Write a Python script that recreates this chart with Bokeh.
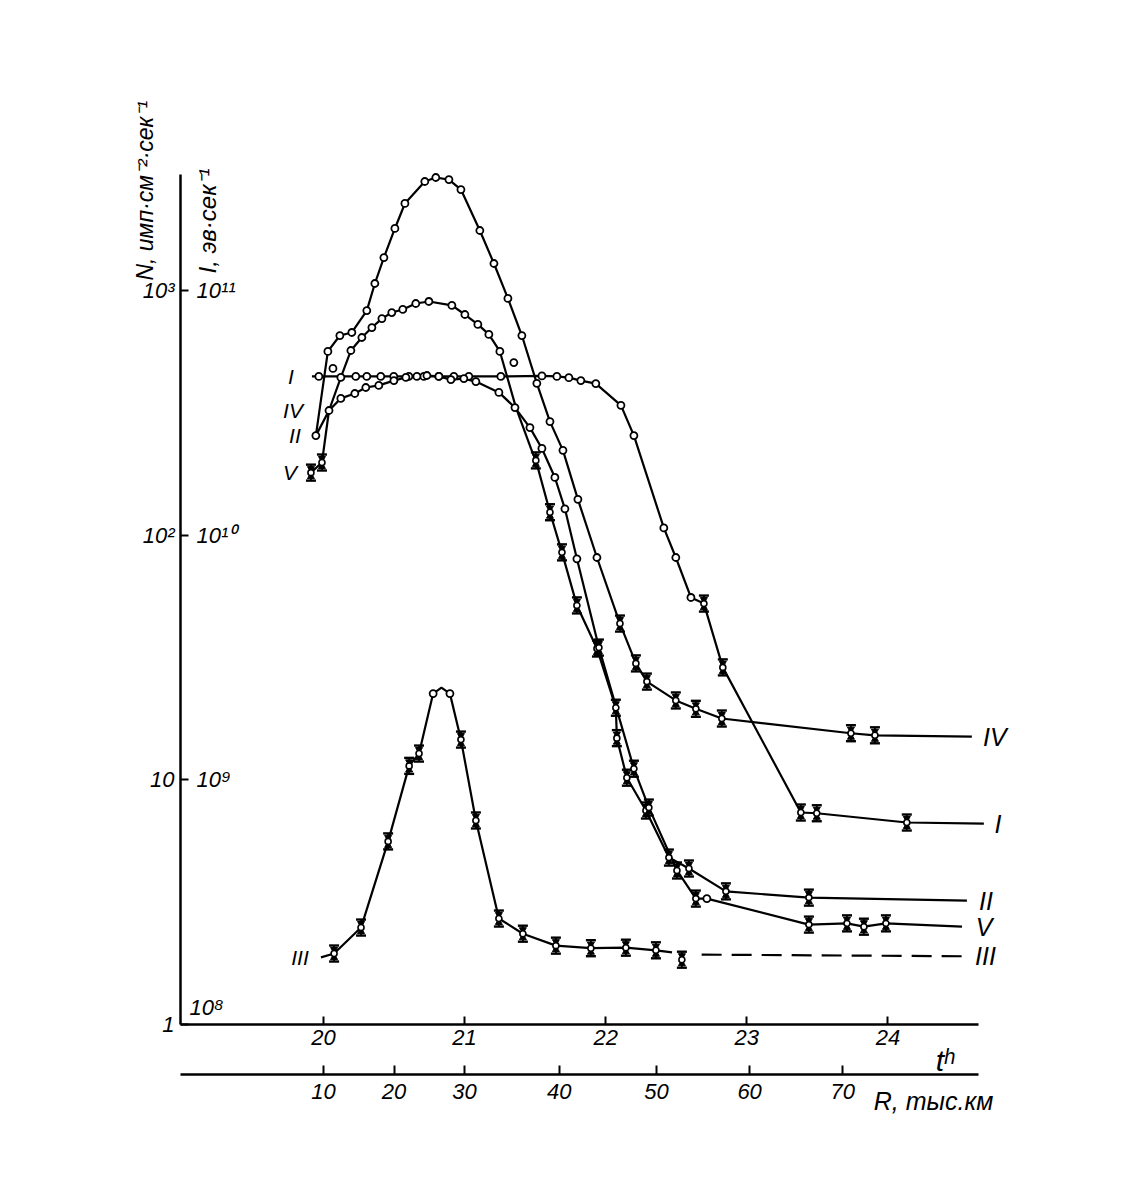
import math
from bokeh.plotting import figure
from bokeh.models import LogAxis, LinearAxis, FixedTicker, Range1d, Label
from bokeh.embed import file_html
from bokeh.resources import INLINE

# ---------------- data ----------------
N_ticks = [1, 10, 100, 1000]
N_tick_labels = ["1", "10", "10²", "10³"]
I_tick_labels = ["10⁸", "10⁹", "10¹⁰", "10¹¹"]
t_ticks = [20, 21, 22, 23, 24]
R_values = [10, 20, 30, 40, 50, 60, 70]
R_at_t = [20.0, 20.5, 21.0, 21.67, 22.36, 23.02, 23.68]

# curve ending at label I (flat plateau then drop)
t_I = [19.918, 19.967, 20.229, 20.307, 20.406, 20.498, 20.605, 20.711, 20.817, 20.924,
       21.030, 21.257, 21.548, 21.654, 21.739, 21.824, 21.930, 22.108, 22.200, 22.412,
       22.497, 22.604, 22.696, 22.830, 23.383, 23.496, 24.134, 24.680]
N_I = [445, 445, 445, 445, 445, 445, 445, 445, 445, 445,
       445, 445, 447, 445, 440, 428, 416, 339, 255, 107,
       81, 55.6, 52.5, 28.8, 7.35, 7.3, 6.69, 6.62]
m_I = "-" + "o" * 16 + "o" * 5 + "e" * 5 + "-"

# curve ending at label IV (tallest peak)
t_IV = [19.946, 20.031, 20.116, 20.201, 20.307, 20.364, 20.428, 20.506, 20.577, 20.718,
        20.796, 20.889, 20.974, 21.108, 21.208, 21.307, 21.406, 21.512, 21.605, 21.697,
        21.803, 21.938, 22.101, 22.214, 22.292, 22.497, 22.639, 22.823, 23.738, 23.908,
        24.595]
N_IV = [255, 563, 654, 673, 827, 1067, 1362, 1791, 2266, 2786,
        2893, 2836, 2583, 1757, 1288, 927, 654, 417, 291, 222,
        140, 81, 43.5, 29.9, 25.2, 21.1, 19.5, 17.8, 15.5, 15.2,
        15.0]
m_IV = "o" * 22 + "e" * 8 + "-"

# curve ending at label II (middle hump)
t_II = [19.911, 19.989, 20.039, 20.123, 20.194, 20.272, 20.343, 20.414, 20.484, 20.562,
        20.654, 20.747, 20.910, 21.002, 21.094, 21.172, 21.250, 21.364, 21.470, 21.505,
        21.605, 21.690, 21.796, 21.938, 22.072, 22.079, 22.150, 22.285, 22.448, 22.590,
        22.852, 23.440, 24.560]
N_II = [180, 198, 323, 441, 568, 642, 705, 767, 812, 836,
        884, 901, 868, 797, 726, 661, 563, 332, 226, 202,
        124, 85, 51.6, 34.4, 19.7, 14.8, 10.2, 7.49, 4.81, 4.34,
        3.50, 3.30, 3.21]
m_II = "ee" + "-" + "o" * 14 + "--" + "e" * 13 + "-"

# curve ending at label V (lower hump)
t_V = [19.946, 20.039, 20.123, 20.222, 20.300, 20.392, 20.499, 20.584, 20.662, 20.733,
       20.818, 20.903, 20.995, 21.080, 21.243, 21.357, 21.463, 21.548, 21.640, 21.711,
       21.796, 21.952, 22.200, 22.306, 22.505, 22.639, 22.717, 23.440, 23.710, 23.830,
       23.986, 24.525]
N_V = [255, 323, 362, 379, 401, 409, 428, 441, 445, 449,
       445, 432, 436, 424, 383, 332, 275, 226, 172, 128,
       80, 34.7, 11.1, 7.7, 4.26, 3.27, 3.27, 2.56, 2.59, 2.51,
       2.59, 2.51]
m_V = "-" + "o" * 20 + "e" * 5 + "o" + "e" * 4 + "-"

# curve III (narrow peak)
t_III = [19.982, 20.075, 20.266, 20.458, 20.607, 20.677, 20.777, 20.836, 20.896, 20.974,
         21.080, 21.243, 21.413, 21.647, 21.895, 22.143, 22.356, 22.470]
N_III = [1.88, 1.95, 2.49, 5.6, 11.4, 12.8, 22.5, 23.8, 22.5, 14.6,
         6.82, 2.71, 2.35, 2.10, 2.05, 2.06, 2.01, 1.97]
m_III = "-" + "eeeee" + "o" + "-" + "o" + "e" * 8 + "-"
t_III_dash = [22.68, 24.55]
N_III_dash = [1.93, 1.90]
t_III_extra = [22.540]
N_III_extra = [1.84]

# isolated circles
t_stray = [20.067, 21.349]
N_stray = [480, 507]

# ---------------- geometry ----------------
W, H = 1100, 1160
PX_H = 141.1      # pixels per hour
PX_DEC = 244.7    # pixels per decade
X_T20 = 323       # pixel column of t = 20
Y_N1 = 1024       # pixel row of N = 1
T_LEFT = 20 - X_T20 / PX_H
LOG_TOP = Y_N1 / PX_DEC
LOG_BOTTOM = (Y_N1 - H) / PX_DEC

T_AXIS = 20 - (X_T20 - 180) / PX_H      # where the vertical axis stands
T_AXIS_END = 24.64
N_AXIS_TOP = 2980
N_R_AXIS = 10 ** (-50 / PX_DEC)          # second (distance) axis, 50 px below

FONT = "Liberation Sans"

p = figure(width=W, height=H,
           x_range=Range1d(T_LEFT, T_LEFT + W / PX_H),
           y_range=Range1d(10 ** LOG_BOTTOM, 10 ** LOG_TOP),
           y_axis_type="log", x_axis_location=None, y_axis_location=None,
           output_backend="svg", toolbar_location=None,
           min_border=0, min_border_left=0, min_border_right=0,
           min_border_top=0, min_border_bottom=0)
p.outline_line_color = None
p.grid.grid_line_color = None
p.background_fill_color = "white"
p.border_fill_color = "white"


def style_axis(ax, size="21px", standoff=6, tick_in=8):
    ax.axis_line_width = 2.5
    ax.axis_line_color = "black"
    ax.major_tick_in = tick_in
    ax.major_tick_out = 0
    ax.major_tick_line_width = 2
    ax.minor_tick_line_color = None
    ax.major_label_standoff = standoff
    ax.major_label_text_font = FONT
    ax.major_label_text_font_style = "italic"
    ax.major_label_text_font_size = size
    ax.major_label_text_color = "black"


# left N axis
yax = LogAxis(ticker=FixedTicker(ticks=N_ticks),
              major_label_overrides={k: v for k, v in zip(N_ticks, N_tick_labels)},
              bounds=(1, N_AXIS_TOP), fixed_location=T_AXIS)
style_axis(yax, size="22px", standoff=6)
p.add_layout(yax, "left")

# time axis
tax = LinearAxis(ticker=FixedTicker(ticks=t_ticks), bounds=(T_AXIS, T_AXIS_END),
                 fixed_location=1)
style_axis(tax, size="22px", standoff=5)
p.add_layout(tax, "below")

# distance axis
rax = LinearAxis(ticker=FixedTicker(ticks=R_at_t),
                 major_label_overrides={k: str(v) for k, v in zip(R_at_t, R_values)},
                 bounds=(T_AXIS, T_AXIS_END), fixed_location=N_R_AXIS)
style_axis(rax, size="22px", standoff=9, tick_in=9)
p.add_layout(rax, "below")

# ---------------- curves ----------------
F = 10 ** (8 / PX_DEC)


def draw_errors(et, en):
    p.segment(x0=et, y0=[v / F for v in en], x1=et, y1=[v * F for v in en],
              line_width=1.8, line_color="black")
    p.scatter(et, [v * F for v in en], marker="dash", size=10, line_width=2.4, line_color="black")
    p.scatter(et, [v / F for v in en], marker="dash", size=10, line_width=2.4, line_color="black")
    p.scatter(et, [v * F ** 0.5 for v in en], marker="inverted_triangle", size=7,
              fill_color="black", line_color="black")
    p.scatter(et, [v / F ** 0.5 for v in en], marker="triangle", size=7,
              fill_color="black", line_color="black")
    p.scatter(et, en, marker="circle", size=6, fill_color="white",
              line_color="black", line_width=1.6)


def draw_markers(t, n, kinds):
    ct = [a for a, k in zip(t, kinds) if k == "o"]
    cn = [b for b, k in zip(n, kinds) if k == "o"]
    et = [a for a, k in zip(t, kinds) if k == "e"]
    en = [b for b, k in zip(n, kinds) if k == "e"]
    if ct:
        p.scatter(ct, cn, marker="circle", size=7, fill_color="white",
                  line_color="black", line_width=1.8)
    if et:
        draw_errors(et, en)


curves = [(t_I, N_I, m_I), (t_IV, N_IV, m_IV), (t_II, N_II, m_II),
          (t_V, N_V, m_V), (t_III, N_III, m_III)]
for t, n, k in curves:
    p.line(t, n, line_width=2.2, line_color="black")
p.line(t_III_dash, N_III_dash, line_width=2.2, line_color="black", line_dash="20 10")
for t, n, k in curves:
    draw_markers(t, n, k)
draw_errors(t_III_extra, N_III_extra)
p.scatter(t_stray, N_stray, marker="circle", size=7, fill_color="white",
          line_color="black", line_width=1.8)


# ---------------- texts ----------------
def lab(x, y, text, size="21px", xo=0, align="center", baseline="middle", angle=0.0,
        style="italic"):
    p.add_layout(Label(x=x, y=y, text=text, x_offset=xo,
                       text_align=align, text_baseline=baseline, angle=angle,
                       text_font=FONT, text_font_style=style, text_font_size=size,
                       text_color="black"))


# I-scale tick labels, inside the axis
for nv, txt in zip([1.17, 10, 100, 1000], I_tick_labels):
    lab(T_AXIS, nv, txt, size="22px", xo=9 if nv < 2 else 16, align="left")

# axis titles (rotated, reading upwards)
lab(T_AXIS, 1097, "N, имп·см⁻²·сек⁻¹", size="23px", xo=-36, align="left",
    baseline="alphabetic", angle=math.pi / 2)
lab(T_AXIS, 1172, "I, эв·сек⁻¹", size="24px", xo=27, align="left",
    baseline="alphabetic", angle=math.pi / 2)
lab(24.34, 10 ** (-36 / PX_DEC), "tʰ", size="30px", align="left", baseline="middle")
lab(23.90, 10 ** (-76 / PX_DEC), "R, тыс.км", size="25px", align="left", baseline="middle")

# curve labels, left ends
lab(t_I[0], N_I[0], "I", xo=-21)
lab(t_V[1], N_V[1], "IV", xo=-36)
lab(t_IV[0], N_IV[0], "II", xo=-21)
lab(t_II[0], N_II[0], "V", xo=-21)
lab(t_III[0], N_III[0], "III", xo=-21)
# curve labels, right ends
lab(t_I[-1], N_I[-1], "I", size="25px", xo=14)
lab(t_IV[-1], N_IV[-1], "IV", size="25px", xo=23)
lab(t_II[-1], N_II[-1], "II", size="25px", xo=19)
lab(t_V[-1], N_V[-1], "V", size="25px", xo=22)
lab(t_III_dash[-1], N_III_dash[-1], "III", size="25px", xo=20)

open("out.html", "w").write(file_html(p, INLINE))
